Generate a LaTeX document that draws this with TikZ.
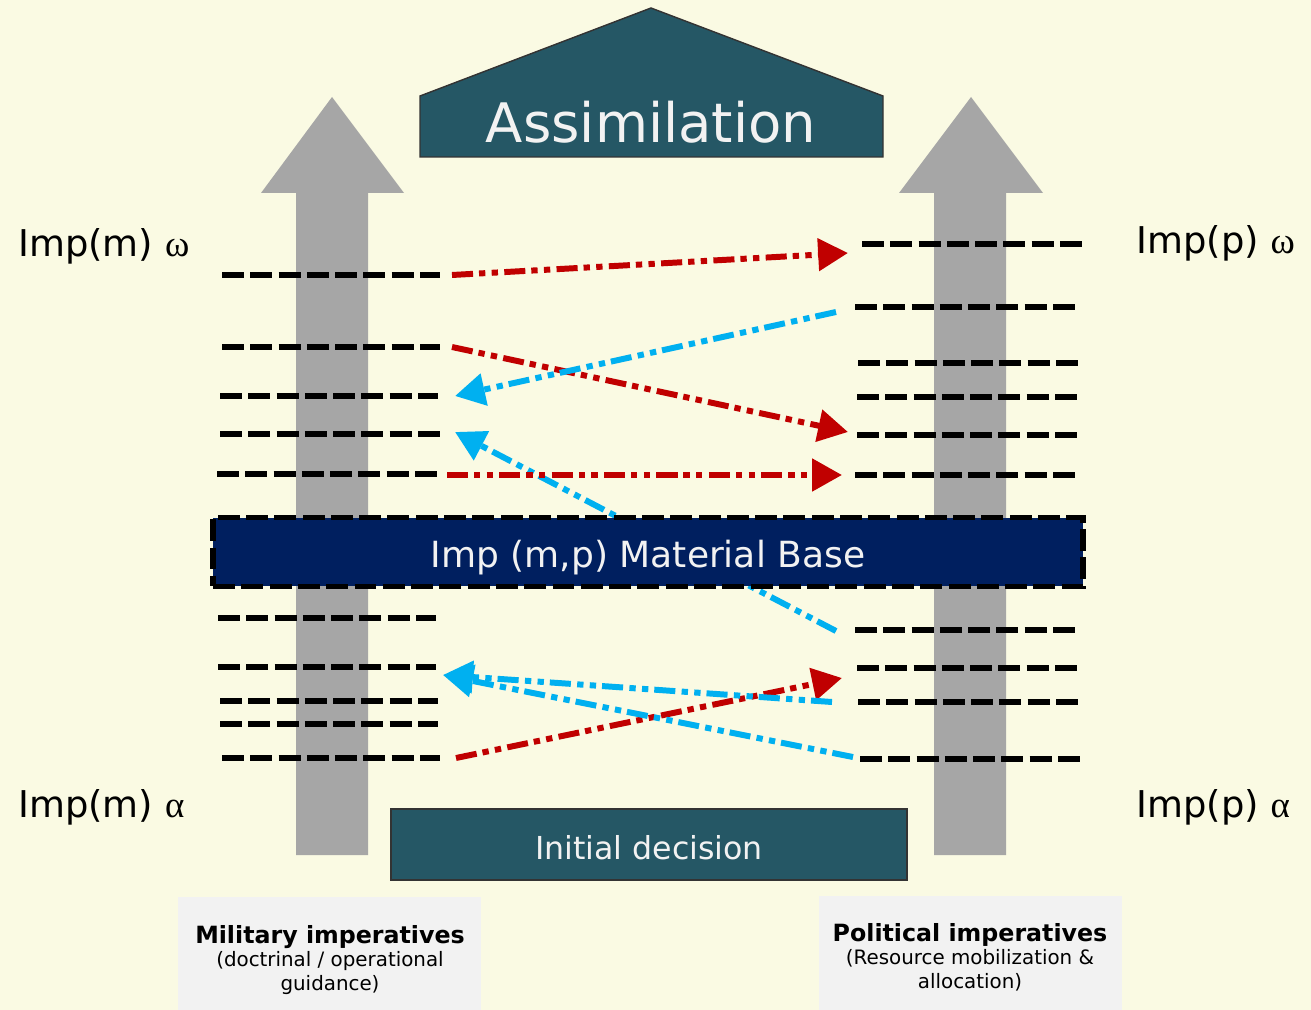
\documentclass[tikz,border=0pt]{standalone}
\usepackage{fontspec}
\setmainfont{DejaVu Sans}
\newfontfamily\greekfont{Liberation Serif}
\usetikzlibrary{arrows.meta}

\definecolor{paper}{RGB}{250,250,227}
\definecolor{shaftgray}{RGB}{166,166,166}
\definecolor{roofteal}{RGB}{37,87,101}
\definecolor{basenavy}{RGB}{0,31,95}
\definecolor{pushred}{RGB}{192,0,0}
\definecolor{pullblue}{RGB}{0,176,240}
\definecolor{capgray}{RGB}{242,242,242}
\definecolor{softwhite}{RGB}{242,242,242}

\tikzset{
  level/.style={line width=3.1pt, dash pattern=on 12.5pt off 3.6pt},
  flow/.style={line width=3.4pt, dash pattern=on 12pt off 3.4pt on 3.6pt off 3.6pt on 3.6pt off 3.6pt,
    -{Triangle[length=17pt,width=18pt]}},
  push/.style={flow, pushred},
  pull/.style={flow, pullblue},
  roof/.style={draw=black!80, line width=0.8pt, fill=roofteal},
  rooftext/.style={text=softwhite, inner sep=0pt},
  matbase/.style={fill=basenavy, draw=black, line width=3.1pt, dash pattern=on 12.5pt off 3.6pt,
    minimum width=17.4cm, minimum height=1.38cm},
  imp/.style={inner sep=0pt, anchor=base west, font=\fontsize{21}{25}\selectfont},
  caption/.style={inner sep=0pt, anchor=base, align=center, font=\fontsize{11.3}{13.2}\selectfont}
}

\begin{document}
\begin{tikzpicture}[x=0.02cm,y=-0.02cm]
\fill[paper] (0,0) rectangle (1311,1010);

% the two upward arrows
\fill[shaftgray] (296,855) -- (296,193) -- (261,193) -- (332,97) -- (404,193) -- (368,193) -- (368,855) -- cycle;
\fill[shaftgray] (934,855) -- (934,193) -- (899,193) -- (971,97) -- (1043,193) -- (1006,193) -- (1006,855) -- cycle;

% roof and floor
\draw[roof] (420,157) -- (420,96) -- (651,8) -- (883,96) -- (883,157) -- cycle;
\node[rooftext, anchor=base, font=\fontsize{31}{36}\selectfont] (assim) at (651,143) {Assimilation};
\node[roof, minimum width=10.32cm, minimum height=1.42cm] (init) at (649,844.5) {};
\node[rooftext, anchor=base, font=\fontsize{18}{22}\selectfont] (inittxt) at (649,859) {Initial decision};

% military levels
\draw[level] (222,275) -- (440,275);
\draw[level] (222,347) -- (440,347);
\draw[level] (220,396) -- (438,396);
\draw[level] (220,434) -- (440,434);
\draw[level] (217,474) -- (440,474);
\draw[level] (218,618) -- (436,618);
\draw[level] (218,667) -- (436,667);
\draw[level] (220,701) -- (438,701);
\draw[level] (220,724) -- (438,724);
\draw[level] (222,758) -- (440,758);

% political levels
\draw[level] (862,244) -- (1082,244);
\draw[level] (855,307) -- (1075,307);
\draw[level] (858,363) -- (1078,363);
\draw[level] (857,397) -- (1077,397);
\draw[level] (857,435) -- (1077,435);
\draw[level] (855,475) -- (1075,475);
\draw[level] (855,630) -- (1075,630);
\draw[level] (857,668) -- (1077,668);
\draw[level] (858,702) -- (1078,702);
\draw[level] (860,759) -- (1080,759);

% ends of the flows
\coordinate (m1) at (452,275);
\coordinate (m2) at (452,347);
\coordinate (m3) at (455,396);
\coordinate (m4) at (455,432);
\coordinate (m5) at (447,475);
\coordinate (m6) at (443,675);
\coordinate (m7) at (456,758);
\coordinate (p1) at (848,253);
\coordinate (p2) at (836,312);
\coordinate (p3) at (848,432);
\coordinate (p4) at (842,475);
\coordinate (p5) at (836,631);
\coordinate (p6) at (842,678);
\coordinate (p7) at (832,702);
\coordinate (p8) at (853,757);

\draw[pull] (p5) -- (m4);
\draw[push] (m1) -- (p1);
\draw[push] (m2) -- (p3);
\draw[pull] (p2) -- (m3);
\draw[push] (m5) -- (p4);
\draw[push] (m7) -- (p6);
\draw[pull] (p7) -- (m6);
\draw[pull] (p8) -- (m6);

% material base
\node[matbase] (base) at (648,552) {};
\node[rooftext, anchor=base, font=\fontsize{20.5}{24}\selectfont] (basetxt) at (648,567) {Imp (m,p) Material Base};

% side labels
\node[imp] (mo) at (18,256) {Imp(m) {\greekfont ω}};
\node[imp] (ma) at (18,817) {Imp(m) {\greekfont α}};
\node[imp] (po) at (1136,254) {Imp(p) {\greekfont ω}};
\node[imp] (pa) at (1136,817) {Imp(p) {\greekfont α}};

% captions
\fill[capgray] (178,897) rectangle (481,1010);
\fill[capgray] (819,896) rectangle (1122,1010);
\node[caption] (mil) at (330,990) {{\fontsize{13.5}{13.2}\selectfont\bfseries Military imperatives}\\(doctrinal / operational\\guidance)};
\node[caption] (pol) at (970,988) {{\fontsize{13.5}{13.2}\selectfont\bfseries Political imperatives}\\(Resource mobilization \&\\allocation)};
\end{tikzpicture}
\end{document}
